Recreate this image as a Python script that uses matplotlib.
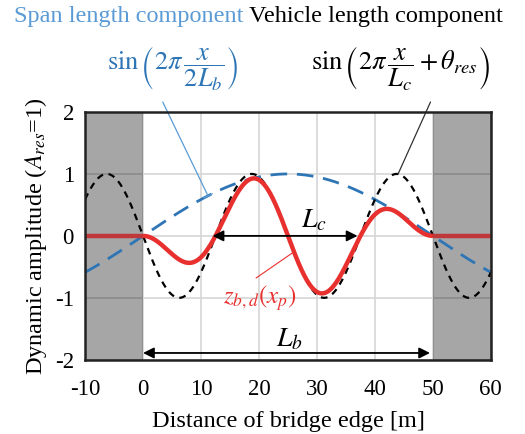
import numpy as np
import matplotlib
matplotlib.use("Agg")
import matplotlib.pyplot as plt

SERIF = ["Liberation Serif", "DejaVu Serif"]
plt.rcParams["font.family"] = SERIF
plt.rcParams["mathtext.fontset"] = "stix"
plt.rcParams["axes.unicode_minus"] = False

# Model parameters
L_b = 50.0          # span length [m]
L_c = 25.0          # vehicle length [m]
theta_res = np.pi   # phase of the vehicle length component
x_min, x_max = -10, 60

x_ticks = [-10, 0, 10, 20, 30, 40, 50, 60]
y_ticks = [-2, -1, 0, 1, 2]

x = np.linspace(x_min, x_max, 1401)
span_comp = np.sin(2 * np.pi * x / (2 * L_b))
vehicle_comp = np.sin(2 * np.pi * x / L_c + theta_res)
on_bridge = (x >= 0) & (x <= L_b)
z_bd = np.where(on_bridge, span_comp * vehicle_comp, 0.0)

BLUE = "#2e75b6"
LIGHT_BLUE = "#5b9bd5"
RED = "#e8302f"
RED_DARK = "#c0393a"

fig = plt.figure(figsize=(5.25, 4.34), dpi=100)
ax = fig.add_axes([0.162, 0.171, 0.773, 0.571])

ax.set_xlim(x_min, x_max)
ax.set_ylim(-2, 2)
ax.set_xticks(x_ticks)
ax.set_yticks(y_ticks)
ax.grid(True, color="#d6d6d6", lw=1.2, zorder=0)
ax.set_axisbelow(True)
ax.tick_params(length=0, labelsize=16.5)
ax.tick_params(axis="x", pad=14)
ax.tick_params(axis="y", pad=8)
for s in ax.spines.values():
    s.set_linewidth(1.8)
    s.set_color("#222222")
    s.set_zorder(10)

# Off-bridge regions
ax.axvspan(x_min, 0, color="black", alpha=0.35, lw=0, zorder=1.5)
ax.axvspan(L_b, x_max, color="black", alpha=0.35, lw=0, zorder=1.5)

ax.plot(x, span_comp, color=BLUE, lw=2.0, dashes=(6, 3.5), zorder=3)
ax.plot(x, vehicle_comp, color="black", lw=1.6, dashes=(3, 2.5), zorder=3)
ax.plot(x[on_bridge], z_bd[on_bridge], color=RED, lw=3.2, zorder=4,
        solid_capstyle="butt")
ax.plot(x[x <= 0], z_bd[x <= 0], color=RED_DARK, lw=3.2, zorder=4,
        solid_capstyle="butt")
ax.plot(x[x >= L_b], z_bd[x >= L_b], color=RED_DARK, lw=3.2, zorder=4,
        solid_capstyle="butt")

# Length arrows
arrow_kw = dict(arrowstyle="<|-|>", color="black", lw=1.3,
                mutation_scale=16, shrinkA=0, shrinkB=0)
ax.annotate("", xy=(12 + L_c, 0), xytext=(12, 0), arrowprops=arrow_kw,
            zorder=5)
ax.text(29.5, 0.24, r"$L_c$", fontsize=20, ha="center", va="center")
ax.annotate("", xy=(L_b - 0.5, -1.89), xytext=(0, -1.89),
            arrowprops=arrow_kw, zorder=5)
ax.text(25.3, -1.68, r"$L_b$", fontsize=20, ha="center", va="center")

# Curve labels
ax.text(20.2, -1.0, r"$z_{b,d}\left(x_p\right)$", color=RED, fontsize=18,
        ha="center", va="center")
ax.annotate("", xy=(26, -0.26), xytext=(19.5, -0.68),
            arrowprops=dict(arrowstyle="-", color=RED, lw=0.8,
                            shrinkA=0, shrinkB=0))

fig.text(0.026, 0.962, "Span length component", color=LIGHT_BLUE,
         fontsize=17.5, ha="left", va="center", family=SERIF)
fig.text(0.474, 0.962, "Vehicle length component", color="black",
         fontsize=17.5, ha="left", va="center", family=SERIF)
fig.text(0.328, 0.843, r"$\sin\left(2\pi\,\dfrac{x}{2L_b}\right)$",
         color=BLUE, fontsize=19, ha="center", va="center")
fig.text(0.762, 0.843, r"$\sin\left(2\pi\,\dfrac{x}{L_c}+\theta_{res}\right)$",
         color="black", fontsize=19, ha="center", va="center")

ax.annotate("", xy=(11.2, np.sin(2 * np.pi * 11.2 / (2 * L_b))),
            xytext=(0.31, 0.765), textcoords="figure fraction",
            arrowprops=dict(arrowstyle="-[, widthB=0.35, lengthB=0",
                            color=LIGHT_BLUE, lw=0.9, shrinkA=0, shrinkB=0))
ax.annotate("", xy=(44.0, 1.0), xytext=(0.82, 0.765),
            textcoords="figure fraction",
            arrowprops=dict(arrowstyle="-", color="#333333", lw=0.9,
                            shrinkA=0, shrinkB=0))

ax.set_xlabel("Distance of bridge edge [m]", fontsize=17.5, labelpad=8)
ax.set_ylabel(r"Dynamic amplitude ($A_{res}$=1)", fontsize=17.5, labelpad=4)

fig.savefig("out.png", dpi=100)
